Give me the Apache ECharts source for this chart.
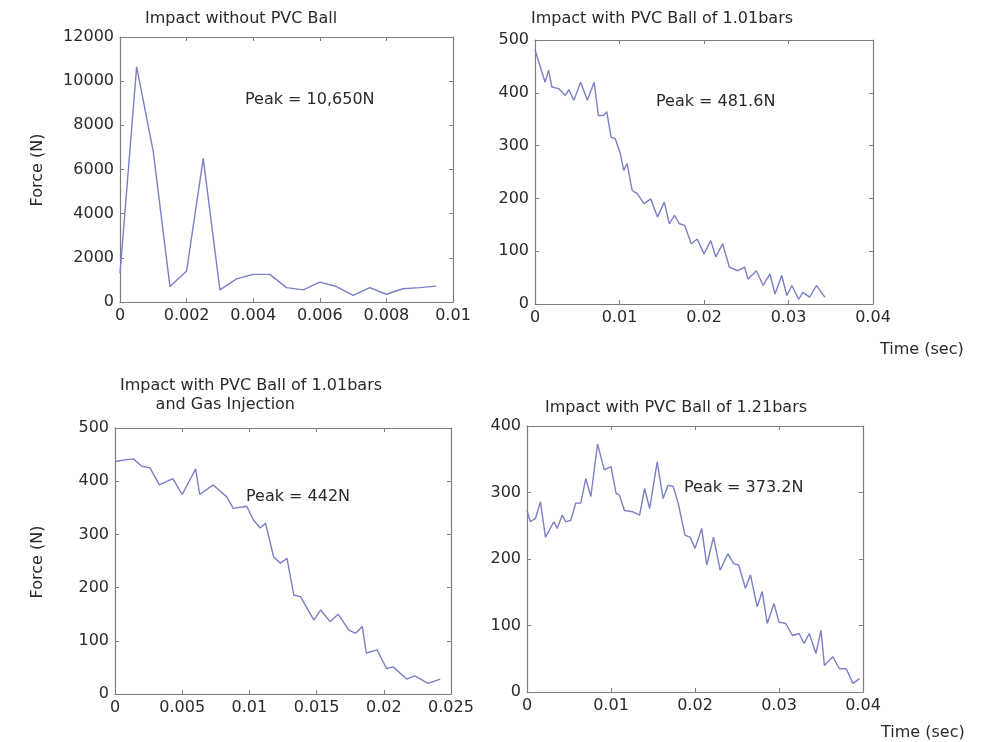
<!DOCTYPE html>
<html>
<head>
<meta charset="utf-8">
<script src="https://cdn.jsdelivr.net/npm/echarts@6/dist/echarts.min.js"></script>
<style>
html,body{margin:0;padding:0;background:#fff;}
#chart{width:986px;height:742px;}
</style>
</head>
<body>
<div id="chart"></div>
<script>
// ---- Data ----
const titles = ['Impact without PVC Ball', 'Impact with PVC Ball of 1.01bars', 'Impact with PVC Ball of 1.01bars\n       and Gas Injection', 'Impact with PVC Ball of 1.21bars'];
const peakLabels = ['Peak = 10,650N', 'Peak = 481.6N', 'Peak = 442N', 'Peak = 373.2N'];

const t1 = [0, 0.0005, 0.001, 0.0015, 0.002, 0.0025, 0.003, 0.0035, 0.004, 0.0045, 0.005, 0.0055, 0.006, 0.0065, 0.007, 0.0075, 0.008, 0.0085, 0.009, 0.0095];
const f1 = [1300, 10650, 6800, 700, 1400, 6500, 550, 1050, 1250, 1250, 650, 550, 900, 700, 300, 650, 350, 600, 650, 720];

const t2 = [0, 0.001, 0.0012, 0.0016, 0.002, 0.0028, 0.0036, 0.004, 0.0046, 0.0054, 0.0062, 0.007, 0.0075, 0.0081, 0.0085, 0.009, 0.0095, 0.0101, 0.0105, 0.0109, 0.0115, 0.0121, 0.0129, 0.0137, 0.0145, 0.0153, 0.0159, 0.0165, 0.0171, 0.0177, 0.0185, 0.0192, 0.02, 0.0208, 0.0214, 0.0222, 0.023, 0.024, 0.0248, 0.0252, 0.0262, 0.027, 0.0278, 0.0284, 0.0292, 0.0298, 0.0304, 0.0312, 0.0317, 0.0325, 0.0333, 0.0343];
const f2 = [481.6, 430, 420, 443, 411, 408, 395, 406, 386, 420, 386, 420, 357, 357, 364, 316, 313, 285, 253, 266, 215, 209, 190, 199, 165, 193, 152, 168, 152, 149, 114, 123, 95, 120, 89, 114, 70, 63, 70, 47, 63, 35, 57, 19, 54, 16, 35, 9, 22, 13, 35, 13];

const t3 = [0, 0.00074, 0.00136, 0.002, 0.0026, 0.0033, 0.0043, 0.005, 0.006, 0.0063, 0.0073, 0.0083, 0.0088, 0.0098, 0.0103, 0.0108, 0.0112, 0.0118, 0.0123, 0.0128, 0.0133, 0.0138, 0.0148, 0.0153, 0.016, 0.0166, 0.0174, 0.0179, 0.0184, 0.0187, 0.0195, 0.0202, 0.0207, 0.0217, 0.0223, 0.0233, 0.0242];
const f3 = [437, 440, 442, 428, 425, 393, 405, 375, 423, 375, 393, 371, 349, 353, 327, 312, 321, 258, 246, 255, 186, 183, 139, 158, 136, 150, 120, 114, 127, 77, 83, 48, 51, 28, 34, 20, 28];

const t4 = [0, 0.0004, 0.001, 0.0016, 0.0022, 0.0032, 0.0036, 0.0042, 0.0046, 0.0052, 0.0058, 0.0064, 0.007, 0.0076, 0.0084, 0.0092, 0.01, 0.0106, 0.011, 0.0116, 0.0126, 0.0134, 0.014, 0.0146, 0.0155, 0.0162, 0.0168, 0.0174, 0.018, 0.0188, 0.0194, 0.02, 0.0208, 0.0214, 0.0222, 0.023, 0.0239, 0.0246, 0.0252, 0.026, 0.0266, 0.0274, 0.028, 0.0286, 0.0294, 0.03, 0.0308, 0.0316, 0.0324, 0.033, 0.0336, 0.0344, 0.035, 0.0354, 0.0364, 0.0372, 0.038, 0.0388, 0.0396];
const f4 = [273, 256, 261, 286, 233, 256, 246, 266, 256, 258, 284, 284, 321, 294, 373.2, 334, 339, 299, 296, 273, 271, 266, 306, 276, 346, 291, 311, 309, 284, 236, 233, 216, 246, 191, 233, 183, 208, 193, 191, 156, 176, 128, 151, 103, 133, 105, 103, 85, 88, 73, 88, 58, 93, 40, 53, 35, 35, 13, 20];

// Tick labels
const xTicks1 = ['0', '0.002', '0.004', '0.006', '0.008', '0.01'];
const yTicks1 = ['0', '2000', '4000', '6000', '8000', '10000', '12000'];
const xTicks2 = ['0', '0.01', '0.02', '0.03', '0.04'];
const yTicks2 = ['0', '100', '200', '300', '400', '500'];
const xTicks3 = ['0', '0.005', '0.01', '0.015', '0.02', '0.025'];
const yTicks3 = ['0', '100', '200', '300', '400', '500'];
const xTicks4 = ['0', '0.01', '0.02', '0.03', '0.04'];
const yTicks4 = ['0', '100', '200', '300', '400'];

const axisName = {force: 'Force (N)', time: 'Time (sec)'};

// ---- Layout ----
const FONT = 'DejaVu Sans';
const TXT = '#2a2a2a';
const FRAME = '#7d7d7d';
const LINE = '#7b7fc6';

const panels = [
  {grid: {left: 120, top: 37, width: 333, height: 265}, xmax: 0.01, xint: 0.002, ymax: 12000, yint: 2000, xt: xTicks1, yt: yTicks1, t: t1, f: f1},
  {grid: {left: 535, top: 40, width: 338, height: 264}, xmax: 0.04, xint: 0.01, ymax: 500, yint: 100, xt: xTicks2, yt: yTicks2, t: t2, f: f2},
  {grid: {left: 115, top: 428, width: 336, height: 266}, xmax: 0.025, xint: 0.005, ymax: 500, yint: 100, xt: xTicks3, yt: yTicks3, t: t3, f: f3},
  {grid: {left: 527, top: 426, width: 336, height: 266}, xmax: 0.04, xint: 0.01, ymax: 400, yint: 100, xt: xTicks4, yt: yTicks4, t: t4, f: f4}
];

const grids = [], xAxes = [], yAxes = [], series = [];
const tick = {show: true, inside: true, length: 4, lineStyle: {color: FRAME}};
const aline = {show: true, onZero: false, lineStyle: {color: FRAME, width: 1.2}};
const lab = (arr, int) => ({show: true, fontFamily: FONT, fontSize: 16, color: TXT, margin: 6,
  formatter: v => arr[Math.round(v / int)]});

panels.forEach((p, i) => {
  grids.push(Object.assign({containLabel: false}, p.grid));
  xAxes[i] = {type: 'value', gridIndex: i, position: 'bottom', min: 0, max: p.xmax, interval: p.xint,
    axisLine: aline, axisTick: tick, splitLine: {show: false}, axisLabel: lab(p.xt, p.xint)};
  xAxes[i + 4] = {type: 'value', gridIndex: i, position: 'top', min: 0, max: p.xmax, interval: p.xint,
    axisLine: aline, axisTick: tick, splitLine: {show: false}, axisLabel: {show: false}};
  yAxes[i] = {type: 'value', gridIndex: i, position: 'left', min: 0, max: p.ymax, interval: p.yint,
    axisLine: aline, axisTick: tick, splitLine: {show: false}, axisLabel: lab(p.yt, p.yint)};
  yAxes[i + 4] = {type: 'value', gridIndex: i, position: 'right', min: 0, max: p.ymax, interval: p.yint,
    axisLine: aline, axisTick: tick, splitLine: {show: false}, axisLabel: {show: false}};
  series.push({type: 'line', xAxisIndex: i, yAxisIndex: i, showSymbol: false, symbol: 'none',
    lineStyle: {color: LINE, width: 1.4}, data: p.t.map((t, k) => [t, p.f[k]]), animation: false});
});

const titleStyle = {fontFamily: FONT, fontSize: 16, fontWeight: 'normal', color: TXT, lineHeight: 19};
const title = [
  {text: titles[0], left: 145, top: 9},
  {text: titles[1], left: 531, top: 9},
  {text: titles[2], left: 120, top: 376},
  {text: titles[3], left: 545, top: 398}
].map(o => Object.assign(o, {padding: 0, textStyle: titleStyle}));

const txt = (text, x, y, rot) => ({type: 'text', x: x, y: y, rotation: rot || 0,
  style: {text: text, fontFamily: FONT, fontSize: 16, fill: TXT, textAlign: rot ? 'center' : 'left', textVerticalAlign: 'middle'}});

const graphic = [
  txt(peakLabels[0], 245, 100),
  txt(peakLabels[1], 656, 102),
  txt(peakLabels[2], 246, 497),
  txt(peakLabels[3], 684, 488),
  txt(axisName.force, 38, 170, Math.PI / 2),
  txt(axisName.force, 38, 562, Math.PI / 2),
  txt(axisName.time, 880, 350),
  txt(axisName.time, 881, 733)
];

const chart = echarts.init(document.getElementById('chart'));
chart.setOption({
  backgroundColor: '#fff',
  animation: false,
  title: title,
  grid: grids,
  xAxis: xAxes,
  yAxis: yAxes,
  series: series,
  graphic: graphic
});
</script>
</body>
</html>
